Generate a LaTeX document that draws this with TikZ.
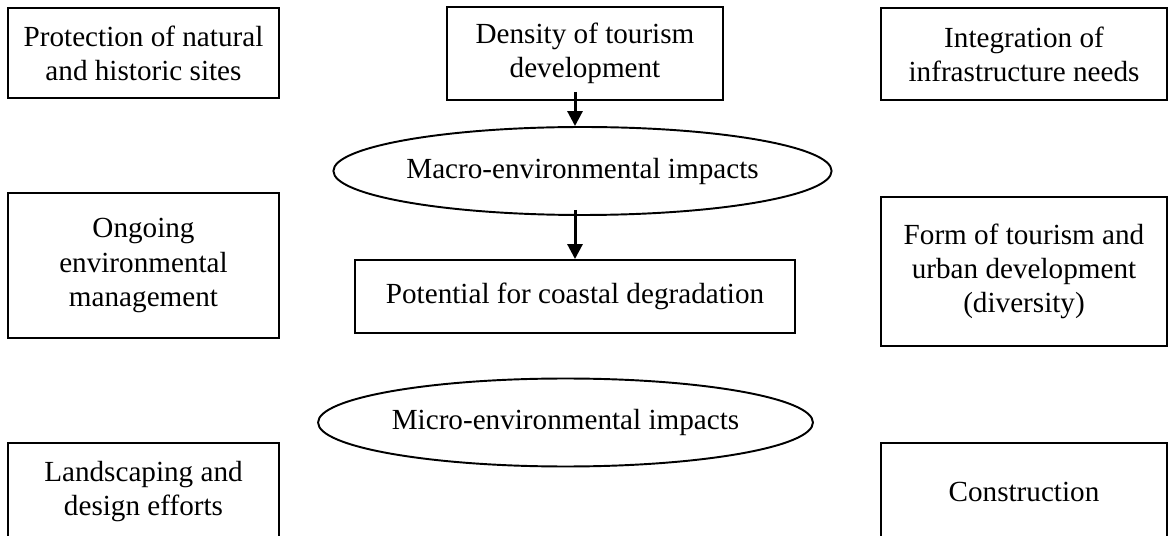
\documentclass[tikz,border=0pt]{standalone}
\usepackage{fontspec}
\setmainfont{Liberation Serif}
\usetikzlibrary{shapes.geometric, arrows.meta}
\tikzset{box/.style = {draw, line width = 1.1pt, align = center, inner sep = 0,
                       font = \fontsize{16.6}{19.4}\selectfont},
         oval/.style = {box, ellipse, minimum width = 9.9cm, minimum height = 1.76cm},
         arr/.style = {line width = 1.7pt, -{Triangle[length = 0.3cm, width = 0.3cm]}}}

\begin{document}
\begin{tikzpicture}[x=0.02cm, y=-0.02cm]
    \useasboundingbox (0, 0) rectangle (1169, 536);
    \node (prot) at (143.5, 53) [box, minimum width = 5.42cm, minimum height = 1.8cm] {Protection of natural\\and historic sites};
    \node (ongo) at (143.5, 265.5) [box, minimum width = 5.42cm, minimum height = 2.9cm] {Ongoing\\environmental\\management};
    \node (land) at (143.5, 491.5) [box, minimum width = 5.42cm, minimum height = 1.94cm] {Landscaping and\\design efforts};
    \node (dens) at (585, 53.5) [box, minimum width = 5.52cm, minimum height = 1.86cm] {Density of tourism\\development};
    \node (macro) at (582.5, 171) [oval] {Macro-environmental impacts};
    \node (pot) at (575, 296.5) [box, minimum width = 8.8cm, minimum height = 1.46cm] {Potential for coastal degradation};
    \node (micro) at (565.5, 422.5) [oval] {Micro-environmental impacts};
    \node (integ) at (1024, 54) [box, minimum width = 5.72cm, minimum height = 1.84cm] {Integration of\\infrastructure needs};
    \node (form) at (1024, 271.5) [box, minimum width = 5.72cm, minimum height = 2.98cm] {Form of tourism and\\urban development\\(diversity)};
    \node (cons) at (1024, 491.5) [box, minimum width = 5.72cm, minimum height = 1.94cm] {Construction};
    \draw [arr] ([yshift = 0.18cm] dens.south -| pot) -- (macro.north -| pot);
    \draw [arr] ([yshift = 0.12cm] macro.south -| pot) -- (pot.north);
\end{tikzpicture}
\end{document}
